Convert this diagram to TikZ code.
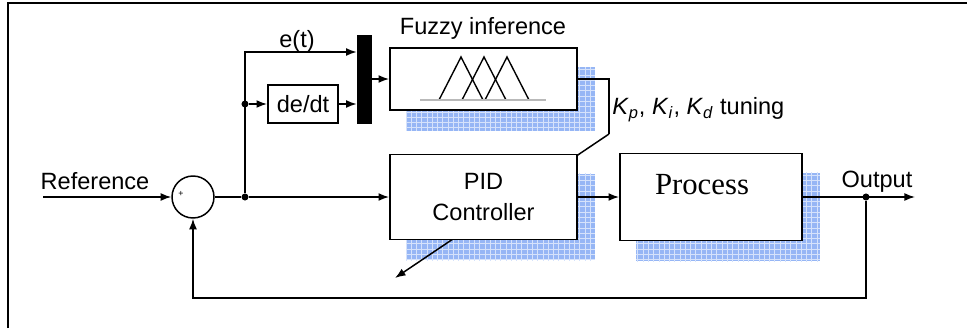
\documentclass[tikz,border=0pt]{standalone}
\usepackage{fontspec}
\setmainfont{Liberation Sans}
\newfontfamily\procserif{Liberation Serif}
\usepackage{tikz}
\usetikzlibrary{positioning}
\usetikzlibrary{calc}
\usetikzlibrary{arrows.meta}
\usetikzlibrary{patterns}
\usetikzlibrary{backgrounds}
\definecolor{shadowblue}{RGB}{150,182,245}
\tikzset{
  block/.style={draw, line width=1.1pt, fill=white, inner sep=0pt},
  sig/.style={line width=0.85pt, -{Latex[length=6pt,width=4.5pt]}},
  wire/.style={line width=0.85pt},
  branch/.style={circle, fill, inner sep=0pt, minimum size=4pt},
  lbl/.style={font=\fontsize{13.4}{17.6}\selectfont, inner sep=0pt},
  hatch/.style={fill=shadowblue, postaction={pattern=grid, pattern color=white!60!shadowblue}},
}

\begin{document}
\begin{tikzpicture}[x=0.02cm, y=-0.02cm]
    \useasboundingbox (0,0) rectangle (967,328);
    \draw[line width=1.3pt] (8,328) -- (8,3) -- (967,3);

    % summing junction and branch points
    \node[circle, draw, line width=0.85pt, minimum size=0.84cm, inner sep=0pt] (sum) at (193,197) {};
    \node[font=\tiny, inner sep=0pt] (plus) at (181,194) {+};
    \node[branch] (br1) at (245,197) {};
    \node[branch] (br2) at (245,104) {};
    \coordinate (refin) at (43,197);
    \coordinate (etop) at (245,52);

    % fuzzy tuner
    \node[block, lbl, minimum width=1.4cm, minimum height=0.76cm] (ddt) at (303,104) {de/dt};
    \node[fill=black, minimum width=0.3cm, minimum height=1.78cm, inner sep=0pt] (mux) at (364.5,79.5) {};
    \node[block, minimum width=3.74cm, minimum height=1.24cm] (fuzzy) at (483.5,79) {};
    \foreach \p in {461,484,507}
        \draw[line width=0.8pt] (\p-22,100) -- (\p,57) -- (\p+22,100);
    \draw[gray!55, line width=1.3pt] (420,100) -- (546,100);

    % tuning arrow behind the controller
    \coordinate (tk) at (609,134);
    \coordinate (tarr) at (395,278);
    \draw[wire] (fuzzy.east) -| (tk);
    \draw[sig] (tk) -- (tarr);

    % plant loop
    \node[block, lbl, align=center, minimum width=3.74cm, minimum height=1.7cm] (pid) at (483.5,197) {PID\\Controller};
    \node[block, minimum width=3.64cm, minimum height=1.74cm] (proc) at (711,197) {};
    \node[font=\procserif\fontsize{17.5}{20}\selectfont, inner sep=0pt] (proclbl) at (702,185) {Process};
    \node[branch] (br3) at (866,197) {};
    \coordinate (outend) at (915,197);
    \coordinate (fb) at (866,298);

    % labels
    \node[lbl] (reflbl) at (95,181) {Reference};
    \node[lbl] (etlbl) at (297,41) {e(t)};
    \node[lbl] (fuzlbl) at (483,28) {Fuzzy inference};
    \node[lbl, anchor=west] (tunlbl) at (612,110) {\textit{K}\textsubscript{\textit{p}}, \textit{K}\textsubscript{\textit{i}}, \textit{K}\textsubscript{\textit{d}} tuning};
    \node[lbl] (outlbl) at (877,182) {Output};

    % connectors
    \draw[sig] (refin) -- (sum.west);
    \draw[wire] (sum.east) -- (br1);
    \draw[sig] (br1) -- (pid.west);
    \draw[sig] (br1) -- (etop) -- (etop -| mux.west);
    \draw[sig] (br2) -- (ddt.west);
    \draw[sig] (ddt.east) -- (ddt.east -| mux.west);
    \draw[sig] (mux.east |- fuzzy.west) -- (fuzzy.west);
    \draw[sig] (pid.east) -- (proc.west);
    \draw[sig] (proc.east) -- (outend);
    \draw[sig] (br3) -- (fb) -| (sum.south);

    % shadows
    \begin{scope}[on background layer]
        \foreach \b in {fuzzy,pid,proc}
            \fill[hatch] ($(\b.north west)+(17,20)$) rectangle ($(\b.south east)+(17,20)$);
    \end{scope}
\end{tikzpicture}
\end{document}
